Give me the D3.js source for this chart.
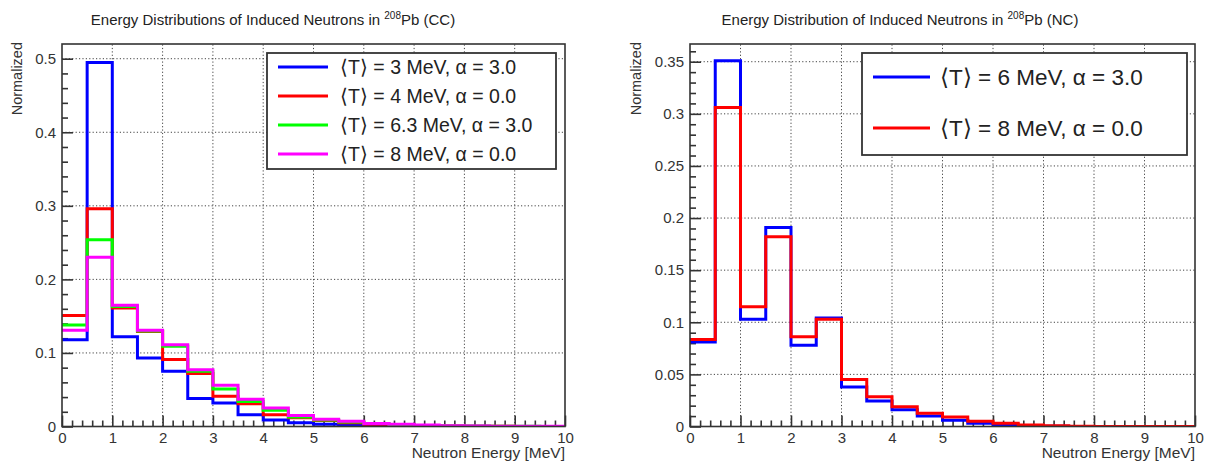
<!DOCTYPE html>
<html>
<head>
<meta charset="utf-8">
<script src="https://cdn.jsdelivr.net/npm/d3@7"></script>
<style>
  html, body { margin: 0; padding: 0; background: #fff; }
  svg { display: block; font-family: "Liberation Sans", Arial, Helvetica, sans-serif; }
</style>
</head>
<body>
<svg id="chart" width="1205" height="464"></svg>
<script>
// ---- Data (bin width 0.5 MeV, 20 bins from 0 to 10 MeV) ----
const binEdges = d3.range(0, 10.5, 0.5);   // 0, 0.5, ..., 10
const xTicks = [0, 1, 2, 3, 4, 5, 6, 7, 8, 9, 10];

// CC panel
const ccBlue    = [0.118, 0.495, 0.122, 0.093, 0.075, 0.038, 0.032, 0.016, 0.009, 0.005, 0.003, 0.002, 0.001, 0.0008, 0.0005, 0.0003, 0.0002, 0.0001, 0.0001, 0.0001];
const ccRed     = [0.151, 0.296, 0.161, 0.129, 0.091, 0.072, 0.041, 0.031, 0.016, 0.012, 0.008, 0.005, 0.003, 0.002, 0.001, 0.0006, 0.0004, 0.0002, 0.0001, 0.0001];
const ccGreen   = [0.138, 0.254, 0.163, 0.130, 0.109, 0.075, 0.051, 0.034, 0.022, 0.013, 0.009, 0.006, 0.004, 0.002, 0.0015, 0.0008, 0.0005, 0.0003, 0.0002, 0.0001];
const ccMagenta = [0.131, 0.230, 0.165, 0.131, 0.111, 0.077, 0.056, 0.037, 0.025, 0.015, 0.010, 0.007, 0.004, 0.003, 0.002, 0.001, 0.0008, 0.0005, 0.0003, 0.0002];
const ccLabels  = ["⟨T⟩ = 3 MeV, α = 3.0", "⟨T⟩ = 4 MeV, α = 0.0", "⟨T⟩ = 6.3 MeV, α = 3.0", "⟨T⟩ = 8 MeV, α = 0.0"];
const ccYTicks  = [0, 0.1, 0.2, 0.3, 0.4, 0.5];
const ccYMax    = 0.52;

// NC panel
const ncBlue    = [0.081, 0.351, 0.103, 0.191, 0.078, 0.104, 0.038, 0.0245, 0.016, 0.010, 0.006, 0.003, 0.0015, 0.0006, 0.0003, 0.0001, 0, 0, 0, 0];
const ncRed     = [0.0835, 0.306, 0.115, 0.182, 0.086, 0.103, 0.045, 0.0285, 0.019, 0.0126, 0.009, 0.005, 0.003, 0.0015, 0.0008, 0.0003, 0.0001, 0, 0, 0];
const ncLabels  = ["⟨T⟩ = 6 MeV, α = 3.0", "⟨T⟩ = 8 MeV, α = 0.0"];
const ncYTicks  = [0, 0.05, 0.1, 0.15, 0.2, 0.25, 0.3, 0.35];
const ncYMax    = 0.367;

const svg = d3.select("#chart");
const axisColor = "#333";

function drawPanel(opt) {
  const g = svg.append("g");
  const x = d3.scaleLinear().domain([0, 10]).range([opt.x0, opt.x1]);
  const y = d3.scaleLinear().domain([0, opt.yMax]).range([opt.yBottom, opt.yTop]);

  const clipId = "clip" + opt.id;
  svg.append("defs").append("clipPath").attr("id", clipId)
    .append("rect").attr("x", opt.x0).attr("y", opt.yTop - 2)
    .attr("width", opt.x1 - opt.x0).attr("height", opt.yBottom - opt.yTop + 2);

  // grid
  const grid = g.append("g").attr("stroke", "#444").attr("stroke-width", 1).attr("stroke-dasharray", "1.2,2.2");
  grid.selectAll("line.gx").data(xTicks.slice(1, -1)).join("line")
    .attr("x1", d => x(d)).attr("x2", d => x(d))
    .attr("y1", opt.yBottom).attr("y2", opt.yTop);
  grid.selectAll("line.gy").data(opt.yTicks.slice(1)).join("line")
    .attr("x1", opt.x0).attr("x2", opt.x1)
    .attr("y1", d => y(d)).attr("y2", d => y(d));

  // minor ticks
  const xMinor = d3.range(0, 10.001, 0.2).filter(v => Math.abs(v - Math.round(v)) > 1e-6);
  const yMinor = d3.range(0, opt.yMax, opt.yMinorStep).filter(v => opt.yTicks.every(t => Math.abs(t - v) > 1e-6));

  const xAxisMinor = d3.axisBottom(x).tickValues(xMinor).tickSize(-6).tickFormat("");
  const xAxis = d3.axisBottom(x).tickValues(xTicks).tickSize(-11).tickPadding(16).tickFormat(d3.format("d"));
  const yAxisMinor = d3.axisLeft(y).tickValues(yMinor).tickSize(-6).tickFormat("");
  const yAxis = d3.axisLeft(y).tickValues(opt.yTicks).tickSize(-11).tickPadding(16).tickFormat(d => d === 0 ? "0" : String(d));

  function styleAxis(sel) {
    sel.select(".domain").remove();
    sel.selectAll(".tick line").attr("stroke", axisColor).attr("stroke-width", 1.6);
    sel.selectAll(".tick text").attr("fill", "#333").attr("font-size", 15);
  }
  g.append("g").attr("transform", `translate(0,${opt.yBottom})`).call(xAxisMinor).call(styleAxis);
  g.append("g").attr("transform", `translate(0,${opt.yBottom})`).call(xAxis).call(styleAxis)
    .selectAll(".tick text").attr("dy", "0.35em").attr("y", 11);
  g.append("g").attr("transform", `translate(${opt.x0},0)`).call(yAxisMinor).call(styleAxis);
  g.append("g").attr("transform", `translate(${opt.x0},0)`).call(yAxis).call(styleAxis)
    .selectAll(".tick text").attr("x", -6);

  // histograms
  const line = d3.line().x(d => x(d[0])).y(d => y(d[1])).curve(d3.curveStepAfter);
  const hg = g.append("g").attr("clip-path", `url(#${clipId})`);
  opt.series.forEach(s => {
    const pts = binEdges.map((e, i) => [e, s.values[Math.min(i, s.values.length - 1)]]);
    hg.append("path").attr("d", line(pts)).attr("fill", "none")
      .attr("stroke", s.color).attr("stroke-width", 3).attr("stroke-linejoin", "miter");
  });

  // frame
  g.append("rect").attr("x", opt.x0).attr("y", opt.yTop)
    .attr("width", opt.x1 - opt.x0).attr("height", opt.yBottom - opt.yTop)
    .attr("fill", "none").attr("stroke", axisColor).attr("stroke-width", 1.6);

  // title
  const t = g.append("text").attr("x", opt.titleX).attr("y", 25).attr("text-anchor", "middle")
    .attr("font-size", 15).attr("fill", "#222");
  t.append("tspan").text(opt.titlePre);
  t.append("tspan").attr("font-size", 10).attr("dy", -6).text("208");
  t.append("tspan").attr("dy", 6).text(opt.titlePost);

  // axis titles
  g.append("text").attr("transform", `translate(${opt.yLabelX},${opt.yTop - 2}) rotate(-90)`)
    .attr("text-anchor", "end").attr("font-size", 14.5).attr("fill", "#333").text("Normalized");
  g.append("text").attr("x", opt.x1).attr("y", 458).attr("text-anchor", "end")
    .attr("font-size", 15.5).attr("fill", "#333").text("Neutron Energy [MeV]");

  // legend
  const L = opt.legend;
  const lg = g.append("g");
  lg.append("rect").attr("x", L.x).attr("y", L.y).attr("width", L.w).attr("height", L.h)
    .attr("fill", "#fff").attr("stroke", axisColor).attr("stroke-width", 1.8);
  opt.series.forEach((s, i) => {
    const cy = L.y + L.rowStart + i * L.rowH;
    lg.append("line").attr("x1", L.x + L.lineX0).attr("x2", L.x + L.lineX1)
      .attr("y1", cy).attr("y2", cy).attr("stroke", s.color).attr("stroke-width", 3);
    lg.append("text").attr("x", L.x + L.textX).attr("y", cy).attr("dy", "0.36em")
      .attr("font-size", L.fontSize).attr("fill", "#222").text(s.label);
  });
}

drawPanel({
  id: "cc", x0: 62, x1: 565, yTop: 44, yBottom: 426.5, yMax: ccYMax,
  yTicks: ccYTicks, yMinorStep: 0.02, yLabelX: 22, titleX: 273,
  titlePre: "Energy Distributions of Induced Neutrons in ", titlePost: "Pb (CC)",
  series: [
    { values: ccBlue, color: "#0000ff", label: ccLabels[0] },
    { values: ccRed, color: "#ff0000", label: ccLabels[1] },
    { values: ccGreen, color: "#00ff00", label: ccLabels[2] },
    { values: ccMagenta, color: "#ff00ff", label: ccLabels[3] }
  ],
  legend: { x: 267, y: 53, w: 289, h: 116, rowStart: 14, rowH: 29, lineX0: 11, lineX1: 61, textX: 73, fontSize: 19.5 }
});

drawPanel({
  id: "nc", x0: 690, x1: 1195, yTop: 44, yBottom: 426.5, yMax: ncYMax,
  yTicks: ncYTicks, yMinorStep: 0.01, yLabelX: 641, titleX: 900,
  titlePre: "Energy Distribution of Induced Neutrons in ", titlePost: "Pb (NC)",
  series: [
    { values: ncBlue, color: "#0000ff", label: ncLabels[0] },
    { values: ncRed, color: "#ff0000", label: ncLabels[1] }
  ],
  legend: { x: 862, y: 53, w: 325, h: 102, rowStart: 24, rowH: 51, lineX0: 11, lineX1: 68, textX: 78, fontSize: 22.5 }
});
</script>
</body>
</html>
